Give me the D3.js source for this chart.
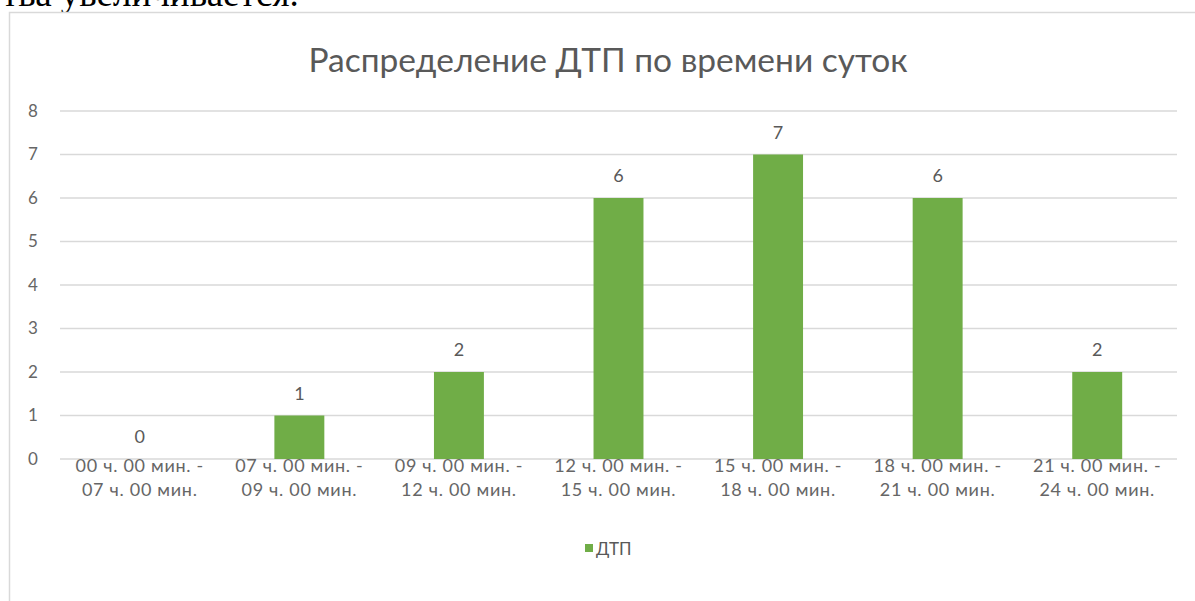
<!DOCTYPE html>
<html><head><meta charset="utf-8">
<script src="https://cdn.jsdelivr.net/npm/d3@7"></script>
<style>html,body{margin:0;padding:0;background:#fff;overflow:hidden}</style>
</head><body>
<svg id="c" width="1195" height="601"></svg>
<script>
const categories = [
  ["00 ч. 00 мин. -", "07 ч. 00 мин."],
  ["07 ч. 00 мин. -", "09 ч. 00 мин."],
  ["09 ч. 00 мин. -", "12 ч. 00 мин."],
  ["12 ч. 00 мин. -", "15 ч. 00 мин."],
  ["15 ч. 00 мин. -", "18 ч. 00 мин."],
  ["18 ч. 00 мин. -", "21 ч. 00 мин."],
  ["21 ч. 00 мин. -", "24 ч. 00 мин."]
];
const values = [0, 1, 2, 6, 7, 6, 2];
const yTicks = [0, 1, 2, 3, 4, 5, 6, 7, 8];
const seriesName = "ДТП";
const title = "Распределение ДТП по времени суток";
const aboveText = "тва увеличивается.";

const svg = d3.select("#c");
const font = "Lato, 'Open Sans', sans-serif";
const grey = "#595959";

// fragment of document text above chart
svg.append("text").attr("x", 2).attr("y", 6)
  .attr("font-family", "'Liberation Serif', serif").attr("font-size", 37)
  .attr("fill", "#000").text(aboveText);

// chart border
svg.append("rect").attr("x", 9.5).attr("y", 12.5).attr("width", 1200).attr("height", 620)
  .attr("fill", "#fff").attr("stroke", "#d9d9d9").attr("stroke-width", 1.5);

const plotL = 60, plotR = 1177, plotT = 111, plotB = 459;
const x = d3.scaleBand().domain(d3.range(categories.length)).range([plotL, plotR]).paddingInner(0.687).paddingOuter(0.3435);
const y = d3.scaleLinear().domain([0, 8]).range([plotB, plotT]);

// gridlines
svg.append("g").selectAll("line").data(yTicks).join("line")
  .attr("x1", plotL).attr("x2", plotR)
  .attr("y1", d => y(d)).attr("y2", d => y(d))
  .attr("stroke", "#d9d9d9").attr("stroke-width", 1.3);

// y axis labels
const yAxis = d3.axisLeft(y).tickValues(yTicks).tickSize(0).tickPadding(0);
const ga = svg.append("g").attr("transform", `translate(33,0)`).call(yAxis);
ga.select(".domain").remove();
ga.selectAll("text").attr("font-family", font).attr("font-size", 17).attr("fill", "#666")
  .attr("text-anchor", "middle");

// bars
svg.append("g").selectAll("rect").data(values).join("rect")
  .attr("x", (d, i) => x(i)).attr("width", x.bandwidth())
  .attr("y", d => y(d)).attr("height", d => y(0) - y(d))
  .attr("fill", "#70ad47");

// data labels
svg.append("g").selectAll("text").data(values).join("text")
  .attr("x", (d, i) => x(i) + x.bandwidth() / 2)
  .attr("y", d => y(d) - 16)
  .attr("text-anchor", "middle").attr("font-family", font).attr("font-size", 18)
  .attr("fill", grey).text(d => d);

// category labels
const cg = svg.append("g").selectAll("text").data(categories).join("text")
  .attr("text-anchor", "middle").attr("font-family", font).attr("font-size", 18)
  .attr("letter-spacing", 0.7).attr("fill", "#666");
cg.each(function(d, i) {
  const t = d3.select(this);
  d.forEach((line, k) => {
    t.append("tspan").attr("x", x(i) + x.bandwidth() / 2).attr("y", 472 + k * 24).text(line);
  });
});

// title
svg.append("text").attr("x", 608).attr("y", 72).attr("text-anchor", "middle")
  .attr("font-family", font).attr("font-size", 33.5).attr("fill", grey).text(title);

// legend
svg.append("rect").attr("x", 585).attr("y", 544).attr("width", 8).attr("height", 8).attr("fill", "#70ad47");
svg.append("text").attr("x", 596).attr("y", 555).attr("font-family", font).attr("font-size", 17)
  .attr("fill", grey).text(seriesName);
</script>
</body></html>
